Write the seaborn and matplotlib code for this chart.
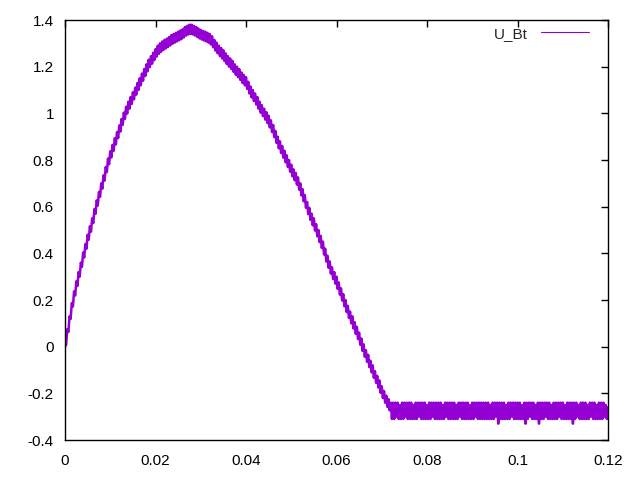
import numpy as np
import pandas as pd
import matplotlib
matplotlib.use("Agg")
import matplotlib.pyplot as plt
from matplotlib.ticker import FuncFormatter, MultipleLocator
import seaborn as sns

# U_Bt samples, every 0.00025 s
# part 1: rise, peak and fall (t = 0 .. 0.072)
u_rise = [
    0.000, 0.008, 0.075, 0.063, 0.130, 0.119, 0.187, 0.172, 0.237, 0.219,
    0.280, 0.260, 0.320, 0.300, 0.360, 0.342, 0.403, 0.382, 0.440, 0.420,
    0.480, 0.458, 0.516, 0.493, 0.550, 0.530, 0.590, 0.569, 0.627, 0.605,
    0.663, 0.642, 0.700, 0.677, 0.734, 0.712, 0.770, 0.748, 0.806, 0.782,
    0.837, 0.811, 0.865, 0.839, 0.893, 0.867, 0.920, 0.894, 0.948, 0.922,
    0.976, 0.950, 1.003, 0.976, 1.028, 0.999, 1.050, 1.020, 1.070, 1.040,
    1.090, 1.060, 1.110, 1.080, 1.130, 1.100, 1.150, 1.120, 1.170, 1.140,
    1.190, 1.160, 1.210, 1.180, 1.230, 1.198, 1.245, 1.213, 1.260, 1.228,
    1.275, 1.243, 1.290, 1.255, 1.300, 1.264, 1.308, 1.272, 1.315, 1.278,
    1.320, 1.284, 1.327, 1.291, 1.335, 1.298, 1.340, 1.303, 1.345, 1.308,
    1.350, 1.313, 1.355, 1.318, 1.360, 1.325, 1.370, 1.333, 1.375, 1.338,
    1.380, 1.340, 1.380, 1.338, 1.375, 1.333, 1.370, 1.327, 1.363, 1.321,
    1.358, 1.316, 1.353, 1.312, 1.350, 1.308, 1.345, 1.303, 1.340, 1.295,
    1.330, 1.283, 1.315, 1.269, 1.303, 1.257, 1.290, 1.245, 1.280, 1.235,
    1.270, 1.224, 1.257, 1.211, 1.245, 1.200, 1.235, 1.190, 1.225, 1.178,
    1.210, 1.165, 1.200, 1.155, 1.190, 1.143, 1.175, 1.130, 1.165, 1.120,
    1.155, 1.105, 1.135, 1.085, 1.115, 1.068, 1.100, 1.053, 1.085, 1.038,
    1.070, 1.020, 1.050, 1.003, 1.035, 0.988, 1.020, 0.973, 1.005, 0.958,
    0.990, 0.940, 0.970, 0.920, 0.950, 0.898, 0.925, 0.873, 0.900, 0.850,
    0.880, 0.830, 0.860, 0.810, 0.840, 0.790, 0.820, 0.770, 0.800, 0.750,
    0.780, 0.730, 0.760, 0.713, 0.745, 0.695, 0.725, 0.673, 0.700, 0.648,
    0.675, 0.623, 0.650, 0.595, 0.620, 0.568, 0.595, 0.543, 0.570, 0.520,
    0.550, 0.498, 0.525, 0.473, 0.500, 0.448, 0.475, 0.423, 0.450, 0.395,
    0.420, 0.365, 0.390, 0.338, 0.365, 0.313, 0.340, 0.290, 0.320, 0.270,
    0.300, 0.248, 0.275, 0.223, 0.250, 0.198, 0.225, 0.173, 0.200, 0.148,
    0.175, 0.123, 0.150, 0.100, 0.130, 0.078, 0.105, 0.055, 0.085, 0.033,
    0.060, 0.008, 0.035, -0.018, 0.010, -0.043, -0.015, -0.065, -0.035, -0.088,
    -0.060, -0.110, -0.080, -0.133, -0.105, -0.155, -0.125, -0.175, -0.145, -0.198,
    -0.170, -0.220, -0.190, -0.240, -0.210, -0.258, -0.225, -0.273, -0.240,
]
# part 2: flat noisy tail (t = 0.07225 .. 0.12)
u_tail = [
    -0.31, -0.24, -0.31, -0.24, -0.30, -0.24, -0.31, -0.25, -0.31, -0.24,
    -0.31, -0.24, -0.30, -0.24, -0.31, -0.24, -0.31, -0.24, -0.31, -0.25,
    -0.31, -0.24, -0.31, -0.24, -0.30, -0.24, -0.31, -0.24, -0.31, -0.24,
    -0.31, -0.25, -0.31, -0.24, -0.31, -0.24, -0.30, -0.24, -0.31, -0.24,
    -0.31, -0.24, -0.31, -0.24, -0.31, -0.25, -0.31, -0.24, -0.30, -0.24,
    -0.31, -0.24, -0.31, -0.24, -0.31, -0.24, -0.31, -0.25, -0.31, -0.24,
    -0.30, -0.24, -0.31, -0.24, -0.31, -0.24, -0.31, -0.24, -0.31, -0.25,
    -0.31, -0.24, -0.31, -0.24, -0.30, -0.24, -0.31, -0.24, -0.31, -0.24,
    -0.31, -0.24, -0.31, -0.24, -0.31, -0.24, -0.31, -0.25, -0.31, -0.24,
    -0.31, -0.24, -0.30, -0.24, -0.33, -0.24, -0.31, -0.24, -0.31, -0.24,
    -0.31, -0.25, -0.31, -0.24, -0.31, -0.24, -0.30, -0.24, -0.31, -0.24,
    -0.31, -0.24, -0.31, -0.24, -0.31, -0.25, -0.31, -0.24, -0.33, -0.24,
    -0.31, -0.24, -0.30, -0.24, -0.31, -0.24, -0.31, -0.25, -0.31, -0.24,
    -0.33, -0.24, -0.31, -0.24, -0.31, -0.24, -0.30, -0.24, -0.31, -0.24,
    -0.31, -0.25, -0.31, -0.24, -0.31, -0.24, -0.31, -0.24, -0.30, -0.24,
    -0.31, -0.24, -0.31, -0.25, -0.31, -0.24, -0.31, -0.24, -0.31, -0.24,
    -0.33, -0.24, -0.31, -0.24, -0.30, -0.25, -0.31, -0.24, -0.31, -0.24,
    -0.31, -0.24, -0.31, -0.25, -0.31, -0.24, -0.30, -0.24, -0.31, -0.24,
    -0.31, -0.25, -0.31, -0.24, -0.31, -0.24, -0.31, -0.24, -0.30, -0.25,
    -0.31, -0.26,
]
t_end = 0.12
series_name = "U_Bt"

u_bt = u_rise + u_tail
df = pd.DataFrame({"t": np.linspace(0, t_end, len(u_bt)), "u": u_bt})

sns.set_theme(style="white")
plt.rcParams["font.family"] = ["Liberation Sans", "DejaVu Sans"]
plt.rcParams["axes.unicode_minus"] = False

fig = plt.figure(figsize=(6.4, 4.8), dpi=100)
ax = fig.add_axes([65 / 640, 40 / 480, 543 / 640, 420 / 480])

sns.lineplot(data=df, x="t", y="u", color="#9400d3", linewidth=1.8,
             label=series_name, ax=ax)

ax.set_xlim(0, 0.12)
ax.set_ylim(-0.4, 1.4)
ax.xaxis.set_major_locator(MultipleLocator(0.02))
ax.yaxis.set_major_locator(MultipleLocator(0.2))
fmt = FuncFormatter(lambda v, pos: "%g" % round(v, 6))
ax.xaxis.set_major_formatter(fmt)
ax.yaxis.set_major_formatter(fmt)
ax.tick_params(direction="in", length=5, width=1, colors="black",
               labelsize=11, top=True, right=True)
ax.tick_params(axis="x", pad=10)
ax.tick_params(axis="y", pad=8)
for s in ax.spines.values():
    s.set_color("black")
    s.set_linewidth(1)
ax.set_xlabel("")
ax.set_ylabel("")

leg = ax.legend(loc="upper right", bbox_to_anchor=(0.99, 1.017), frameon=False,
                markerfirst=False, handlelength=3.1, handletextpad=0.9,
                fontsize=11)
for h in leg.get_lines():
    h.set_linewidth(0.8)

fig.savefig("out.png", dpi=100)
